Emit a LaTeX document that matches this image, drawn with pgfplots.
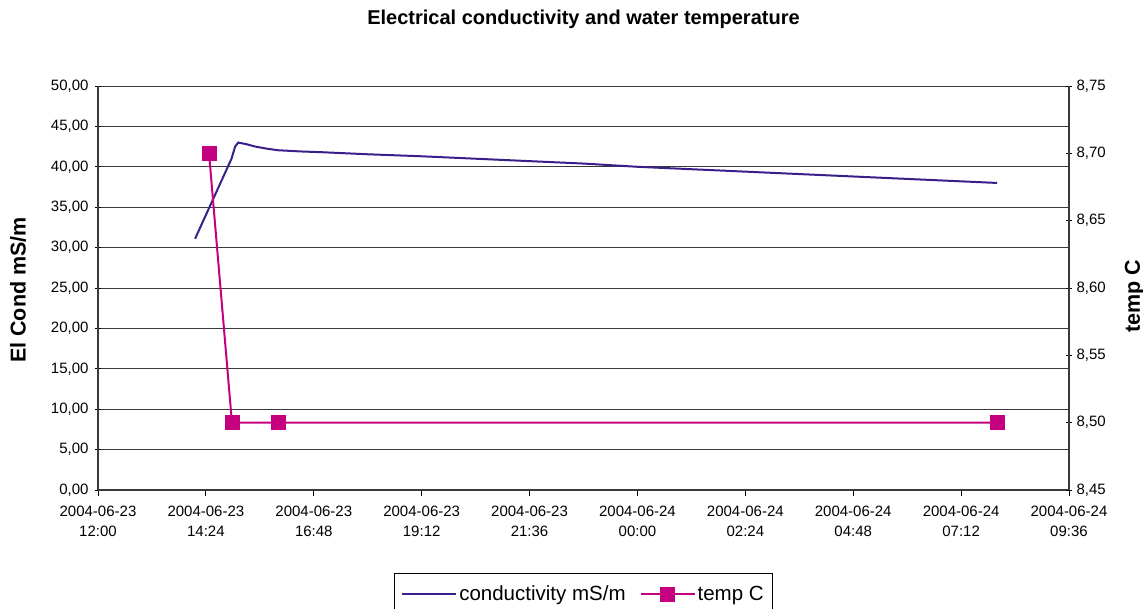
\documentclass[border=0pt]{standalone}
\usepackage{pgfplots}
\pgfplotsset{compat=1.18}
\usepackage{fontspec}
\setmainfont{Liberation Sans}

\definecolor{condcol}{HTML}{3A1F8A}
\definecolor{tempcol}{HTML}{C4007E}
\definecolor{gridcol}{HTML}{3A3A3A}

\pgfplotsset{
  common/.style={
    scale only axis,
    width=971pt, height=404pt,
    at={(0pt,0pt)}, anchor=south west,
    xmin=0, xmax=21.6,
    /pgf/number format/assume math mode=true,
    tick label style={font=\fontsize{15}{20}\selectfont, black},
    yticklabel style={/pgf/number format/fixed, /pgf/number format/fixed zerofill,
                      /pgf/number format/precision=2, /pgf/number format/use comma},
    major tick length=6pt,
    tick style={black, line width=0.8pt},
    axis line style={gridcol, line width=1.4pt},
  },
}

\begin{document}
\begin{tikzpicture}
\path[use as bounding box] (-98pt,-119pt) rectangle (1045pt,490pt);

% conductivity on the left scale
\begin{axis}[common,
  axis x line*=bottom, axis y line*=left,
  ymin=0, ymax=50, ytick distance=5,
  ymajorgrids, grid style={gridcol, line width=0.9pt},
  ytick align=center,
  yticklabel style={/tikz/xshift=-3pt},
  xtick={0,2.4,4.8,7.2,9.6,12,14.4,16.8,19.2,21.6},
  xticklabels={2004-06-23\\12:00, 2004-06-23\\14:24, 2004-06-23\\16:48, 2004-06-23\\19:12, 2004-06-23\\21:36,
               2004-06-24\\00:00, 2004-06-24\\02:24, 2004-06-24\\04:48, 2004-06-24\\07:12, 2004-06-24\\09:36},
  xticklabel style={align=center, yshift=-6pt},
  xtick align=outside,
  ylabel={\textbf{El Cond mS/m}},
  ylabel style={font=\fontsize{21.5}{24}\selectfont, at={(axis description cs:-0.0824,0.495)}, anchor=center},
  title={\textbf{Electrical conductivity and water temperature}},
  title style={font=\fontsize{20}{23}\selectfont, at={(axis description cs:0.5,1.15)}, anchor=center},
]
\addplot[condcol, line width=2pt, no marks] coordinates {
  (2.16,31.1) (2.97,41.0) (3.05,42.5) (3.12,43.0) (3.30,42.8)
  (3.50,42.5) (3.75,42.25) (4.00,42.05) (4.50,41.9) (5.00,41.8) (6.00,41.55)
  (7.20,41.3) (8.40,41.0) (9.60,40.7) (10.80,40.4) (12.00,40.0) (13.20,39.7)
  (14.40,39.4) (15.60,39.1) (16.80,38.8) (18.00,38.5) (19.20,38.2) (20.00,38.0)
};
\end{axis}

% water temperature on the right scale
\begin{axis}[common,
  axis x line=none, axis y line*=right,
  ymin=8.45, ymax=8.75, ytick distance=0.05,
  ytick align=center,
  yticklabel style={/tikz/xshift=1pt},
  ylabel={\textbf{temp C}},
  ylabel style={font=\fontsize{21.5}{24}\selectfont, at={(axis description cs:1.0675,0.48)}, anchor=center},
  legend style={at={(axis description cs:0.5,-0.206)}, anchor=north, draw=black, line width=0.8pt,
                font=\fontsize{20.5}{23}\selectfont, legend columns=-1,
                /tikz/every even column/.append style={column sep=12pt},
                inner xsep=7pt, inner ysep=10pt},
  legend image code/.code={\draw[mark repeat=2,mark phase=2,#1] plot coordinates {(0pt,0pt) (27pt,0pt) (54pt,0pt)};},
]
\addlegendimage{condcol, line width=2pt, no marks}
\addlegendentry{conductivity mS/m}
\addplot[tempcol, line width=2pt, mark=square*, mark size=7pt, mark options={solid, fill=tempcol, draw=tempcol, line width=0.5pt}] coordinates {
  (2.47,8.70) (2.98,8.50) (4.00,8.50) (20.00,8.50)
};
\addlegendentry{temp C}
\end{axis}
\end{tikzpicture}
\end{document}
